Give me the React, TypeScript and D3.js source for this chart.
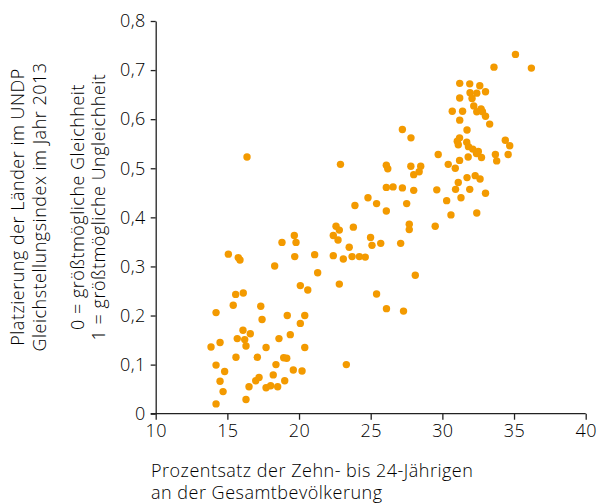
import React, { useEffect, useRef } from 'react';
import * as d3 from 'd3';

// share of 10-24 year olds in total population (%)
const youthShare = [
  13.86, 14.21, 14.21, 14.21, 14.49, 14.49, 14.70, 14.81, 15.07, 15.41,
  15.58, 15.60, 15.69, 15.76, 15.88, 16.09, 16.11, 16.21, 16.30, 16.30,
  16.37, 16.51, 16.60, 16.98, 17.09, 17.21, 17.33, 17.42, 17.70, 17.70,
  18.02, 18.20, 18.30, 18.39, 18.51, 18.60, 18.81, 18.93, 19.14, 19.00,
  19.18, 19.39, 19.60, 19.67, 19.70, 19.79, 20.09, 20.09, 20.21, 20.40,
  20.40, 20.61, 21.09, 21.30, 22.39, 22.39, 22.58, 22.81, 22.72, 22.81,
  22.89, 23.09, 23.30, 23.50, 23.79, 23.90, 23.70, 24.21, 24.62, 24.81,
  24.99, 25.09, 25.41, 25.41, 25.70, 26.09, 26.19, 26.09, 26.56, 26.09,
  26.10, 27.09, 27.21, 27.21, 27.29, 27.51, 27.69, 27.69, 27.80, 27.81,
  28.00, 28.00, 28.11, 28.38, 28.49, 29.50, 29.61, 29.71, 30.30, 30.41,
  30.60, 30.69, 30.90, 30.92, 31.04, 31.11, 31.11, 31.20, 31.20, 31.21,
  31.21, 31.21, 31.30, 31.41, 31.70, 31.72, 31.72, 31.80, 31.82, 31.91,
  31.91, 31.93, 32.07, 32.12, 32.19, 32.29, 32.38, 32.40, 32.40, 32.40,
  32.51, 32.61, 32.63, 32.70, 32.73, 32.80, 33.01, 33.01, 33.01, 33.30,
  33.60, 33.70, 33.79, 34.39, 34.59, 34.70, 35.10, 36.21,
];

// UNDP gender inequality index 2013
const inequalityIndex = [
  0.136, 0.206, 0.099, 0.020, 0.145, 0.066, 0.045, 0.086, 0.325, 0.221,
  0.243, 0.115, 0.153, 0.318, 0.313, 0.170, 0.246, 0.151, 0.138, 0.029,
  0.523, 0.055, 0.163, 0.067, 0.115, 0.074, 0.219, 0.192, 0.135, 0.053,
  0.057, 0.079, 0.301, 0.100, 0.055, 0.153, 0.349, 0.114, 0.113, 0.067,
  0.200, 0.161, 0.089, 0.363, 0.320, 0.349, 0.261, 0.184, 0.087, 0.200,
  0.135, 0.252, 0.324, 0.287, 0.363, 0.322, 0.382, 0.374, 0.354, 0.264,
  0.508, 0.315, 0.100, 0.339, 0.380, 0.424, 0.320, 0.320, 0.319, 0.440,
  0.359, 0.343, 0.428, 0.244, 0.347, 0.506, 0.499, 0.461, 0.462, 0.413,
  0.214, 0.347, 0.460, 0.579, 0.209, 0.428, 0.386, 0.375, 0.504, 0.562,
  0.487, 0.455, 0.282, 0.493, 0.504, 0.382, 0.456, 0.528, 0.434, 0.508,
  0.405, 0.616, 0.500, 0.457, 0.555, 0.548, 0.471, 0.562, 0.516, 0.598,
  0.673, 0.643, 0.440, 0.616, 0.553, 0.578, 0.481, 0.523, 0.544, 0.672,
  0.457, 0.654, 0.642, 0.539, 0.627, 0.485, 0.530, 0.653, 0.409, 0.615,
  0.534, 0.668, 0.478, 0.621, 0.522, 0.615, 0.656, 0.606, 0.449, 0.590,
  0.706, 0.528, 0.515, 0.557, 0.528, 0.546, 0.732, 0.704,
];

const xTicks = [10, 15, 20, 25, 30, 35, 40];
const yTicks = [0, 0.1, 0.2, 0.3, 0.4, 0.5, 0.6, 0.7, 0.8];

const xTitle = ['Prozentsatz der Zehn- bis 24-Jährigen', 'an der Gesamtbevölkerung'];
const yTitle = ['Platzierung der Länder im UNDP', 'Gleichstellungsindex im Jahr 2013'];
const yNote = ['0 = größtmögliche Gleichheit', '1 = größtmögliche Ungleichheit'];

const ScatterChart: React.FC = () => {
  const svgRef = useRef<SVGSVGElement>(null);

  useEffect(() => {
    if (!svgRef.current) return;
    const svg = d3.select(svgRef.current);
    svg.selectAll('*').remove();

    const width = 600;
    const height = 504;
    const left = 155.7;
    const right = 585.7;
    const top = 21;
    const bottom = 413.7;
    const font = '"Open Sans", "Noto Sans", sans-serif';
    const ink = '#222';
    const textInk = '#000';
    const orange = '#f39a00';

    svg.attr('width', width).attr('height', height);

    const x = d3.scaleLinear().domain([10, 40]).range([left, right]);
    const y = d3.scaleLinear().domain([0, 0.8]).range([bottom, top]);

    const fmt = (v: number) => (v === 0 ? '0' : d3.format('.1f')(v).replace('.', ','));

    // y axis
    const gy = svg.append('g')
      .attr('transform', `translate(${left},0)`)
      .call(d3.axisLeft(y).tickValues(yTicks).tickFormat(d => fmt(+d)).tickSize(5).tickSizeOuter(0).tickPadding(5));

    // x axis
    const gx = svg.append('g')
      .attr('transform', `translate(0,${bottom})`)
      .call(d3.axisBottom(x).tickValues(xTicks).tickFormat(d => String(d)).tickSize(6).tickSizeOuter(0).tickPadding(5));

    [gx, gy].forEach(g => {
      g.selectAll('path').attr('stroke', ink).attr('stroke-width', 1.3);
      g.selectAll('line').attr('stroke', ink).attr('stroke-width', 1.3);
      g.selectAll('text')
        .style('font-family', font)
        .style('font-size', '18px')
        .style('font-weight', 300)
        .style('letter-spacing', '0.4px')
        .attr('fill', textInk);
    });
    // extend x axis line to meet the 0 tick
    gx.select('path.domain').attr('d', `M${left - 5},0H${right}`);

    // dots
    svg.append('g')
      .selectAll('circle')
      .data(youthShare.map((v, i) => [v, inequalityIndex[i]]))
      .enter()
      .append('circle')
      .attr('cx', d => x(d[0]))
      .attr('cy', d => y(d[1]))
      .attr('r', 3.7)
      .style('fill', orange);

    // x axis title
    xTitle.forEach((t, i) => {
      svg.append('text')
        .attr('x', 151)
        .attr('y', 477 + i * 22)
        .text(t)
        .style('font-family', font)
        .style('font-size', '18px')
        .style('font-weight', 300)
        .style('letter-spacing', '0.5px')
        .attr('fill', textInk);
    });

    // y axis titles (rotated)
    const cy = 207;
    [...yTitle, ...yNote].forEach((t, i) => {
      const cx = [24, 46, 84, 105][i];
      svg.append('text')
        .attr('transform', `translate(${cx},${cy}) rotate(-90)`)
        .attr('text-anchor', 'middle')
        .text(t)
        .style('font-family', font)
        .style('font-size', '18px')
        .style('font-weight', 300)
        .style('letter-spacing', '0.5px')
        .attr('fill', textInk);
    });
  }, []);

  return <svg ref={svgRef} style={{ display: 'block' }} />;
};

export default function App() {
  return (
    <div style={{ position: 'absolute', left: 0, top: 0 }}>
      <ScatterChart />
    </div>
  );
}
